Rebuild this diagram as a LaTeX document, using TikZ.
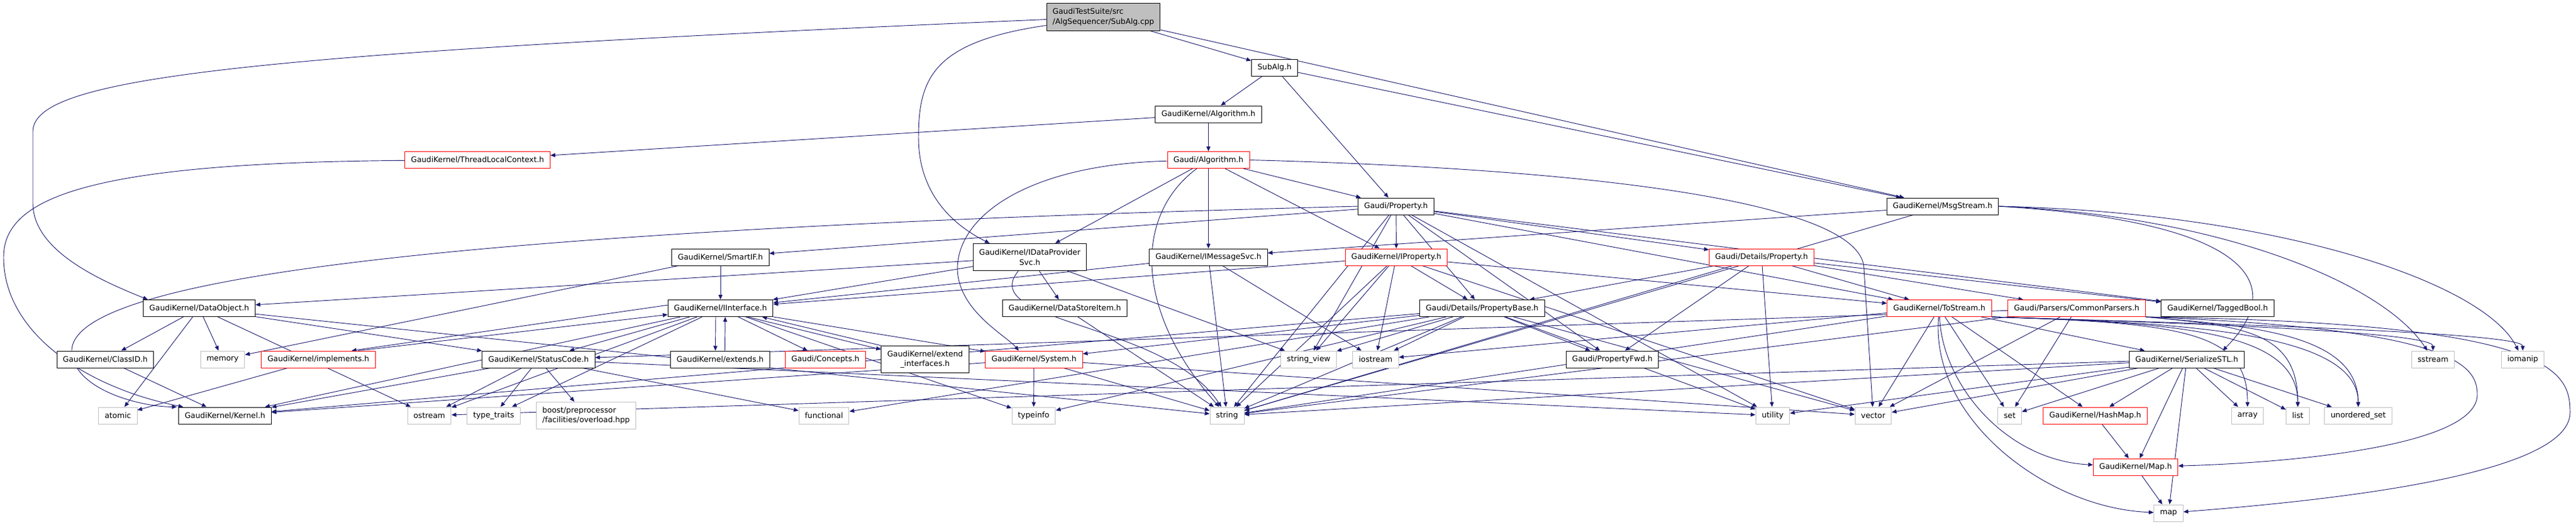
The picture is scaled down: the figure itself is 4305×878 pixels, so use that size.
\documentclass[tikz,border=0pt]{standalone}
\usepackage{fontspec}
\setmainfont{DejaVu Sans}
\usetikzlibrary{arrows.meta,backgrounds}
\definecolor{edgeblue}{HTML}{191970}
\definecolor{sysgray}{HTML}{BFBFBF}
\tikzset{
  box/.style={rectangle,draw=black,fill=white,line width=0.75pt,inner xsep=7.6pt,inner ysep=2pt,
    minimum height=21pt,font=\fontsize{9.6}{12.5}\selectfont},
  hdr/.style={box},
  hdrred/.style={box,draw=red},
  sys/.style={box,draw=sysgray},
  root/.style={box,fill=sysgray},
  twoline/.style={minimum height=34pt},
  inc/.style={draw=edgeblue,line width=0.7pt,-{Triangle[length=6pt,width=5pt]}}
}
\begin{document}
\begin{tikzpicture}[x=0.75pt,y=-0.75pt]
\useasboundingbox (0,0) rectangle (4305,878);
\node[root,twoline,align=left] (cpp) at (1844,28.5) {GaudiTestSuite/src\\/AlgSequencer/SubAlg.cpp};
\node[hdr] (subalg) at (2130,113) {SubAlg.h};
\node[hdr] (gkalg) at (2019.5,191) {GaudiKernel/Algorithm.h};
\node[hdrred] (tlc) at (798,267.5) {GaudiKernel/ThreadLocalContext.h};
\node[hdrred] (galg) at (2019.5,267.5) {Gaudi/Algorithm.h};
\node[hdr] (prop) at (2333,345) {Gaudi/Property.h};
\node[hdr] (msg) at (3246.5,345) {GaudiKernel/MsgStream.h};
\node[hdr] (smartif) at (1204,430) {GaudiKernel/SmartIF.h};
\node[hdr,twoline,align=center] (idps) at (1721,430) {GaudiKernel/IDataProvider\\Svc.h};
\node[hdr] (imsg) at (2019.5,430) {GaudiKernel/IMessageSvc.h};
\node[hdrred] (iprop) at (2333.5,430) {GaudiKernel/IProperty.h};
\node[hdrred] (dprop) at (2944,430) {Gaudi/Details/Property.h};
\node[hdr] (dobj) at (333,515.5) {GaudiKernel/DataObject.h};
\node[hdr] (iif) at (1204,515.5) {GaudiKernel/IInterface.h};
\node[hdr] (dsi) at (1779.5,515.5) {GaudiKernel/DataStoreItem.h};
\node[hdr] (pbase) at (2477,515.5) {Gaudi/Details/PropertyBase.h};
\node[hdrred] (tostream) at (3241,515.5) {GaudiKernel/ToStream.h};
\node[hdrred] (cparse) at (3470.5,515.5) {Gaudi/Parsers/CommonParsers.h};
\node[hdr] (tbool) at (3706,515.5) {GaudiKernel/TaggedBool.h};
\node[hdr] (classid) at (176,601) {GaudiKernel/ClassID.h};
\node[sys] (memory) at (372,601) {memory};
\node[hdrred] (impl) at (532,601) {GaudiKernel/implements.h};
\node[hdr] (sc) at (900,601) {GaudiKernel/StatusCode.h};
\node[hdr] (extends) at (1203.5,601) {GaudiKernel/extends.h};
\node[hdrred] (concepts) at (1379.5,601) {Gaudi/Concepts.h};
\node[hdr,twoline,align=center] (extif) at (1546,601) {GaudiKernel/extend\\\_interfaces.h};
\node[hdrred] (system) at (1728,601) {GaudiKernel/System.h};
\node[sys] (sview) at (2187,601) {string\_view};
\node[sys] (iostream) at (2299,601) {iostream};
\node[hdr] (pfwd) at (2694.5,601) {Gaudi/PropertyFwd.h};
\node[hdr] (sstl) at (3654.5,601) {GaudiKernel/SerializeSTL.h};
\node[sys] (sstream) at (4066,601) {sstream};
\node[sys] (iomanip) at (4216,601) {iomanip};
\node[sys] (atomic) at (197,695) {atomic};
\node[hdr] (kernel) at (376,695) {GaudiKernel/Kernel.h};
\node[sys] (ostream) at (717.5,695) {ostream};
\node[sys] (ttraits) at (825,695) {type\_traits};
\node[sys,twoline,align=left] (boost) at (979.5,695) {boost/preprocessor\\/facilities/overload.hpp};
\node[sys] (functional) at (1377,695) {functional};
\node[sys] (typeinfo) at (1727.5,695) {typeinfo};
\node[sys] (string) at (2050.5,695) {string};
\node[sys] (utility) at (2962.5,695) {utility};
\node[sys] (vector) at (3130.5,695) {vector};
\node[sys] (set) at (3358.5,695) {set};
\node[hdrred] (hashmap) at (3501.5,695) {GaudiKernel/HashMap.h};
\node[sys] (array) at (3756,695) {array};
\node[sys] (list) at (3840,695) {list};
\node[sys] (uset) at (3941,695) {unordered\_set};
\node[hdrred] (maph) at (3569,781) {GaudiKernel/Map.h};
\node[sys] (map) at (3624,858) {map};
\coordinate (busR) at (0,555);
\begin{pgfonlayer}{background}
\foreach \a/\b in {cpp/subalg, cpp/msg, subalg/gkalg, subalg/prop, subalg/msg, gkalg/galg, gkalg/tlc,
    galg/prop, galg/idps, galg/imsg, galg/iprop,
    prop/dprop, prop/pbase, prop/pfwd, prop/iprop, prop/smartif, prop/tbool, prop/tostream,
    prop/string, prop/sview, prop/utility, msg/imsg, msg/string, smartif/iif, smartif/memory,
    idps/dobj, idps/iif, idps/dsi, idps/sview, imsg/iif, imsg/string, imsg/iostream,
    iprop/iif, iprop/pbase, iprop/tostream, iprop/sview, iprop/iostream, iprop/string, iprop/vector,
    dprop/pbase, dprop/pfwd, dprop/tostream, dprop/cparse, dprop/tbool, dprop/utility, dprop/string,
    dobj/classid, dobj/memory, dobj/sc, dobj/ostream, dobj/atomic, dobj/string,
    iif/concepts, iif/system, iif/sc, iif/kernel, iif/ostream, iif/ttraits, iif/typeinfo,
    dsi/string, pbase/pfwd, pbase/system, pbase/kernel, pbase/functional, pbase/typeinfo,
    pbase/string, pbase/sview, pbase/iostream, pbase/utility, pbase/vector,
    tostream/hashmap, tostream/sstl, tostream/iostream, tostream/set, tostream/string, tostream/vector,
    cparse/sc, cparse/vector, cparse/set, cparse/string, classid/kernel, impl/atomic,
    sc/kernel, sc/ostream, sc/ttraits, sc/boost, sc/functional, sc/utility,
    system/typeinfo, system/string, system/kernel, system/vector,
    sstl/hashmap, sstl/maph, sstl/map, sstl/array, sstl/list, sstl/uset, sstl/set, sstl/vector,
    sstl/utility, sstl/ostream, sstl/string, hashmap/maph, maph/map}
  \draw[inc] (\a) -- (\b);
% include cycles
\draw[inc] ([xshift=-6pt]iif.south) -- ([xshift=-6pt]extends.north);
\draw[inc] ([xshift=6pt]extends.north) -- ([xshift=6pt]iif.south);
\draw[inc] ([xshift=-32pt]iif.south east) -- ([yshift=-5pt]extif.north west);
\draw[inc] (extif.north west) -- ([xshift=-14pt]iif.south east);
\draw[inc] ([yshift=4pt]iif.west) -- ([xshift=-30pt]impl.north east);
\draw[inc] ([xshift=-22pt]impl.north east) -- ([yshift=-8pt]iif.west);
% long routes
\draw[inc] (cpp) .. controls (400,90) and (55,130) .. (55,220) -- (55,340)
  .. controls (55,420) and (170,470) .. ([xshift=6pt]dobj.north west);
\draw[inc] (tlc) .. controls (150,272) and (6,330) .. (6,430)
  .. controls (6,560) and (150,650) .. ([xshift=6pt]kernel.north west);
\draw[inc] (cpp) .. controls (1560,70) and (1535,130) .. (1535,230)
  .. controls (1535,330) and (1600,380) .. ([xshift=21pt]idps.north west);
\draw[inc] (galg) .. controls (1720,275) and (1600,360) .. (1600,450)
  .. controls (1602,520) and (1680,560) .. ([xshift=-19pt]system.north);
\draw[inc] (galg) .. controls (1895,360) and (1895,520) .. (string);
\draw[inc] (galg.east) .. controls (2750,285) and (3115,350) .. (3115,450) -- (vector);
\draw[inc] (prop.west) .. controls (700,385) and (110,470) .. (120,590)
  .. controls (125,650) and (230,680) .. ([xshift=-2pt]kernel.north west);
\draw[inc] (idps) .. controls (1630,540) and (1950,540) .. (string);
\draw[inc] (msg.east) .. controls (3750,370) and (3830,470) .. ([xshift=45pt]sstl.north);
\draw[inc] (msg.east) .. controls (3700,360) and (3980,470) .. (sstream);
\draw[inc] (msg.east) .. controls (3800,355) and (4150,470) .. (iomanip);
\draw[inc] (tostream) .. controls (3225,700) and (3420,850) .. (map);
\draw[inc] (tostream) .. controls (3245,640) and (3350,770) .. (maph);
\foreach \t in {array,list,uset,sstream,iomanip}
  \draw[inc] (tostream.south east) .. controls (3650,540) and (\t |- busR) .. (\t);
\foreach \t in {list,uset}
  \draw[inc] (cparse.south east) .. controls (3750,545) and (\t |- busR) .. (\t);
\draw[inc] (cparse.south east) .. controls (4270,540) and (4295,620) .. (4295,690)
  .. controls (4295,800) and (3850,840) .. (map);
\draw[inc] (cparse.south east) .. controls (4100,550) and (4140,610) .. (4140,660)
  .. controls (4140,750) and (3800,775) .. (maph);
\end{pgfonlayer}
\end{tikzpicture}
\end{document}
